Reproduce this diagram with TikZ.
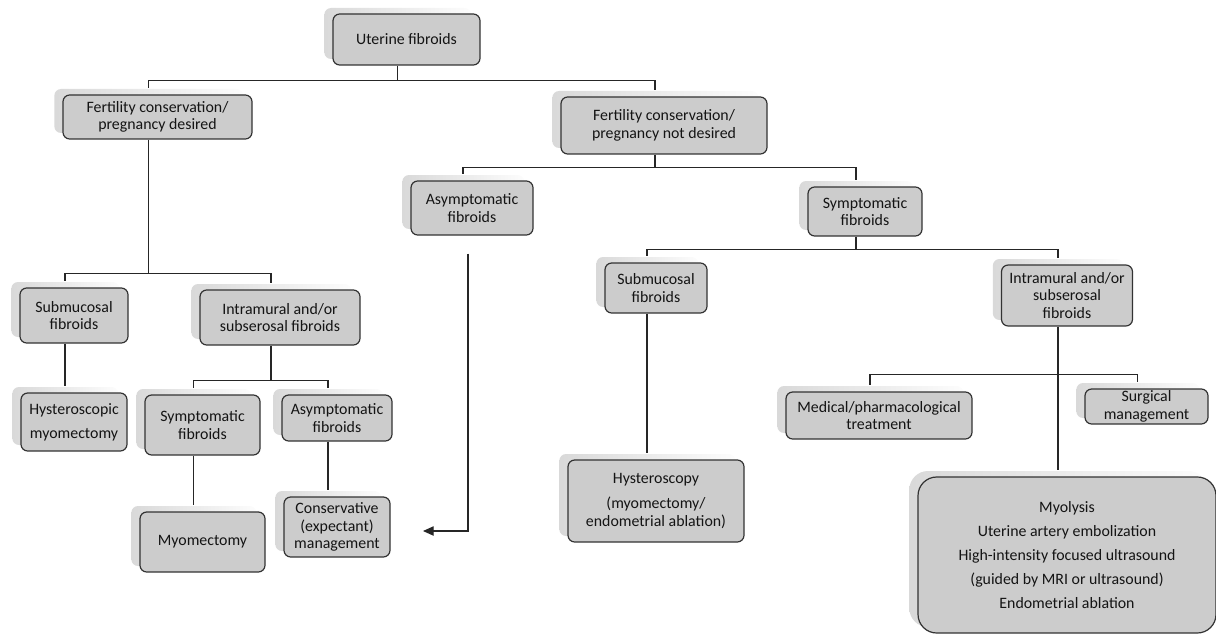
\documentclass[tikz,border=0pt]{standalone}
\usepackage{fontspec}
\setmainfont{Carlito}
\usetikzlibrary{shadows,arrows.meta,calc}
\begin{document}
\begin{tikzpicture}[x=0.75pt,y=-0.75pt,
  box/.style={draw=black!80, line width=0.9pt, fill=black!20, rounded corners=5pt,
    align=center, text=black!92, font=\fontsize{11.9pt}{13pt}\selectfont, inner sep=1pt,
    general shadow={shadow xshift=-6.5pt, shadow yshift=4.5pt, left color=black!15, right color=black!1}},
  sz/.style 2 args={minimum width=#1*0.75pt, minimum height=#2*0.75pt},
  conn/.style={draw=black!85, line width=0.9pt},
  bo/.style={xshift=-6.75pt},
  ti/.style={xshift=-6.75pt, yshift=4.5pt},
]
\useasboundingbox (0,0) rectangle (1216,638);

\node[box, sz={147}{51}] (ut) at (406.5,39.5) {Uterine fibroids};
\node[box, sz={189}{44}] (fd) at (157.5,117) {Fertility conservation/\\pregnancy desired};
\node[box, sz={206}{57}] (fnd) at (664,125.5) {Fertility conservation/\\pregnancy not desired};
\node[box, sz={122}{54}] (asy) at (472,208) {Asymptomatic\\fibroids};
\node[box, sz={114}{49}] (sym) at (865,211.5) {Symptomatic\\fibroids};
\node[box, sz={108}{55}] (smL) at (74,315.5) {Submucosal\\fibroids};
\node[box, sz={160}{55}] (imL) at (280,317.5) {Intramural and/or\\subserosal fibroids};
\node[box, sz={106}{58}] (hm) at (74,422) {Hysteroscopic\\[5pt]myomectomy};
\node[box, sz={115}{60}] (symL) at (202.5,425) {Symptomatic\\fibroids};
\node[box, sz={110}{46}] (asyL) at (337,418) {Asymptomatic\\fibroids};
\node[box, sz={125}{60}] (myo) at (202.5,542) {Myomectomy};
\node[box, sz={106}{60}] (cons) at (337,527) {Conservative\\(expectant)\\management};
\node[box, sz={102}{50}] (smR) at (656,288) {Submucosal\\fibroids};
\node[box, sz={131}{61}] (imR) at (1067,295.5) {Intramural and/or\\subserosal\\fibroids};
\node[box, sz={176}{82}] (hys) at (656,501) {Hysteroscopy\\[6pt](myomectomy/\\endometrial ablation)};
\node[box, sz={186}{47}] (med) at (879,415.5) {Medical/pharmacological\\treatment};
\node[box, sz={123}{35}] (surg) at (1146.5,406.5) {Surgical\\management};
\node[box, sz={298}{156}, rounded corners=14pt] (big) at (1067,555)
  {Myolysis\\[5pt]Uterine artery embolization\\[5pt]High-intensity focused ultrasound\\[5pt](guided by MRI or ultrasound)\\[5pt]Endometrial ablation};

% connectors
\draw[conn] ([bo]ut.south) -- ++(0,15) coordinate (j1) -| ([ti]fd.north);
\draw[conn] (j1) -| ([ti]fnd.north);

\draw[conn] ([bo]fd.south) -- ++(0,134) coordinate (j2) -| ([ti]smL.north);
\draw[conn] (j2) -| ([ti]imL.north);

\draw[conn] ([bo]fnd.south) -- ++(0,13) coordinate (j3) -| ([ti]asy.north);
\draw[conn] (j3) -| ([ti]sym.north);

\draw[conn] ([bo]sym.south) -- ++(0,13) coordinate (j4) -| ([ti]smR.north);
\draw[conn] (j4) -| ([ti]imR.north);

\draw[conn] ([bo]imL.south) -- ++(0,35) coordinate (j5) -| ([ti]symL.north);
\draw[conn] (j5) -| ([ti]asyL.north);

\draw[conn] ([bo]imR.south) -- ++(0,48) coordinate (j6) -| ([ti]med.north);
\draw[conn] (j6) -| ([ti]surg.north);
\draw[conn] (j6) -- ([ti]big.north);

\draw[conn] ([bo]smL.south) -- ([ti]hm.north);
\draw[conn] ([bo]symL.south) -- ([ti]myo.north);
\draw[conn] ([bo]asyL.south) -- ([ti]cons.north);
\draw[conn] ([bo]smR.south) -- ([ti]hys.north);

\coordinate (aE) at (423,531);
\draw[conn, -{Triangle[length=8pt,width=7pt]}] ([xshift=-3pt,yshift=-13.5pt]asy.south) |- (aE);
\end{tikzpicture}
\end{document}
